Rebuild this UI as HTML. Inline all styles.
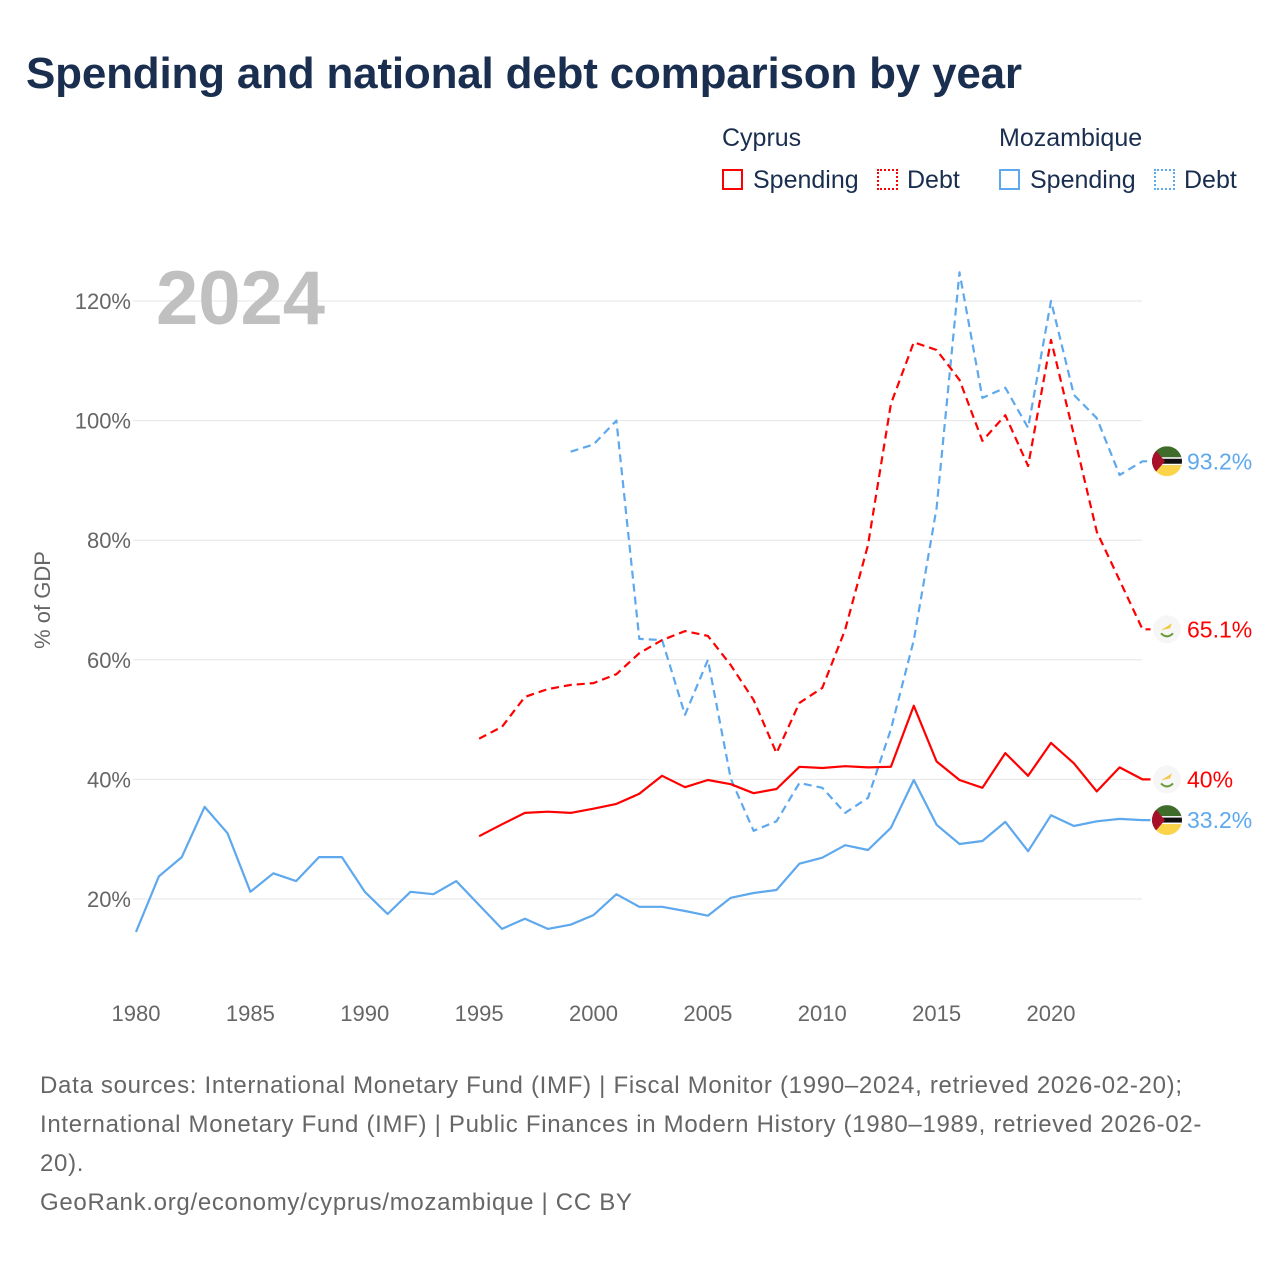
<!DOCTYPE html>
<html><head><meta charset="utf-8">
<style>
body{margin:0;background:#fff;font-family:"Liberation Sans",sans-serif;}
#wrap{position:relative;width:1280px;height:1280px;overflow:hidden;background:#fff;}
#title{position:absolute;left:26px;top:49px;font-size:44px;font-weight:bold;color:#1a2e4f;letter-spacing:-0.2px;margin:0;}
.lg{position:absolute;font-size:25px;color:#1a2e4f;}
.box{position:absolute;width:21px;height:21px;box-sizing:border-box;}
#src{position:absolute;left:40px;top:1066px;width:1240px;font-size:24px;line-height:39px;color:#666;letter-spacing:0.7px;white-space:nowrap;}
</style></head><body>
<div id="wrap">
<h1 id="title">Spending and national debt comparison by year</h1>
<div class="lg" style="left:722px;top:124px">Cyprus</div>
<div class="lg" style="left:999px;top:124px">Mozambique</div>
<div class="box" style="left:722px;top:169px;border:2px solid #ff0000"></div>
<div class="lg" style="left:753px;top:166px">Spending</div>
<div class="box" style="left:877px;top:169px;border:2px dotted #ff0000"></div>
<div class="lg" style="left:907px;top:166px">Debt</div>
<div class="box" style="left:999px;top:169px;border:2px solid #5ea8ee"></div>
<div class="lg" style="left:1030px;top:166px">Spending</div>
<div class="box" style="left:1154px;top:169px;border:2px dotted #5ea8ee"></div>
<div class="lg" style="left:1184px;top:166px">Debt</div>
<svg id="plot" width="1280" height="1280" style="position:absolute;left:0;top:0"></svg>
<div id="src">Data sources: International Monetary Fund (IMF) | Fiscal Monitor (1990–2024, retrieved 2026-02-20);<br>International Monetary Fund (IMF) | Public Finances in Modern History (1980–1989, retrieved 2026-02-<br>20).<br>GeoRank.org/economy/cyprus/mozambique | CC BY</div>
</div>
<script>
const yTicks=[20,40,60,80,100,120];
const xTicks=[1980,1985,1990,1995,2000,2005,2010,2015,2020];
const mozSpendStart=1980;
const mozSpending=[14.5,23.8,27,35.4,31,21.2,24.3,23,27,27,21.2,17.5,21.2,20.8,23,19,15,16.7,15,15.7,17.3,20.8,18.7,18.7,18,17.2,20.2,21,21.5,25.9,26.9,29,28.2,31.9,39.9,32.4,29.2,29.7,32.9,28,34,32.2,33,33.4,33.2];
const cypSpendStart=1995;
const cypSpending=[30.5,32.5,34.4,34.6,34.4,35.1,35.9,37.6,40.6,38.7,39.9,39.2,37.7,38.4,42.1,41.9,42.2,42,42.1,52.3,43,39.9,38.6,44.4,40.6,46.1,42.7,38,42,40];
const cypDebtStart=1995;
const cypDebt=[46.8,48.8,53.8,55.1,55.8,56.1,57.6,61.1,63.3,64.8,64,59.1,53.3,44.4,52.8,55.3,65,79.2,102.8,113.1,111.8,106.8,96.6,100.9,92.4,113.5,97.6,81.4,73.3,65.1];
const mozDebtStart=1999;
const mozDebt=[94.8,96,100,63.5,63.3,50.8,60,40.1,31.4,33,39.4,38.6,34.4,36.9,48.4,63.3,85.4,124.8,103.8,105.5,98.8,120,104.3,100.4,90.9,93.2];
const endLabels=["93.2%","65.1%","40%","33.2%"];

const NS="http://www.w3.org/2000/svg";
const svg=document.getElementById('plot');
const X=y=>136+(y-1980)*22.875;
const Y=v=>301+(120-v)*5.98;
function mk(t,a){const e=document.createElementNS(NS,t);for(const k in a)e.setAttribute(k,a[k]);svg.appendChild(e);return e;}
yTicks.forEach(v=>{
  const l=mk('line',{x1:133,x2:1142,y1:Y(v),y2:Y(v),stroke:'#e6e6e6','stroke-width':1});
  
  
  const t=mk('text',{x:131,y:Y(v)+8,'text-anchor':'end','font-size':22,fill:'#666','font-family':'Liberation Sans, sans-serif'});
  t.textContent=v+'%';
  
  
});
xTicks.forEach(yr=>{
  const t=mk('text',{x:X(yr),y:1021,'text-anchor':'middle','font-size':22,fill:'#666','font-family':'Liberation Sans, sans-serif'});
  t.textContent=yr;
  
  
});
const yt=mk('text',{x:0,y:0,transform:'translate(50,600) rotate(-90)','text-anchor':'middle','font-size':22,fill:'#666','font-family':'Liberation Sans, sans-serif'});
yt.textContent='% of GDP';


const yr=mk('text',{x:156,y:324,'font-size':76,'font-weight':'bold',fill:'#c0c0c0','font-family':'Liberation Sans, sans-serif'});
yr.textContent='2024';


function series(arr,start,color,dash,name){
  const pts=arr.map((v,i)=>X(start+i).toFixed(1)+','+Y(v).toFixed(1));
  pts.push((X(start+arr.length-1)+8).toFixed(1)+','+Y(arr[arr.length-1]).toFixed(1));
  const p=mk('polyline',{points:pts.join(' '),fill:'none',stroke:color,'stroke-width':2.2,'stroke-linejoin':'round'});
  if(dash)p.setAttribute('stroke-dasharray',dash);
  
  
}
series(mozSpending,mozSpendStart,'#5ea8ee',null,'mozambique-spending-line');
series(mozDebt,mozDebtStart,'#5ea8ee','8,5','mozambique-debt-line');
series(cypSpending,cypSpendStart,'#ff0000',null,'cyprus-spending-line');
series(cypDebt,cypDebtStart,'#ff0000','8,5','cyprus-debt-line');
const ends=[[mozDebt,'#5ea8ee','moz'],[cypDebt,'#ff0000','cyp'],[cypSpending,'#ff0000','cyp'],[mozSpending,'#5ea8ee','moz']];
ends.forEach((e,i)=>{
  const v=e[0][e[0].length-1], cy=Y(v), cx=1167;
  if(e[2]==='moz'){
    const g=document.createElementNS(NS,'g');svg.appendChild(g);
    
    
    g.innerHTML=`<clipPath id="c${i}"><circle cx="${cx}" cy="${cy}" r="15"/></clipPath><g clip-path="url(#c${i})"><rect x="${cx-15}" y="${cy-15}" width="30" height="11" fill="#3f6b2b"/><rect x="${cx-15}" y="${cy-4}" width="30" height="8" fill="#111"/><rect x="${cx-15}" y="${cy-4}" width="30" height="1.5" fill="#fff"/><rect x="${cx-15}" y="${cy+2.5}" width="30" height="1.5" fill="#fff"/><rect x="${cx-15}" y="${cy+4}" width="30" height="11" fill="#fcd44a"/><polygon points="${cx-15},${cy-15} ${cx-2},${cy} ${cx-15},${cy+15}" fill="#a8102a"/></g>`;
  } else {
    const g=document.createElementNS(NS,'g');svg.appendChild(g);
    
    
    g.innerHTML=`<circle cx="${cx}" cy="${cy}" r="14" fill="#f6f6f6"/><path d="M${cx-6},${cy+1} L${cx+5},${cy-6} L${cx+3},${cy-1} Z" fill="#f2c744"/><path d="M${cx-6},${cy+4} Q${cx},${cy+10} ${cx+6},${cy+4}" stroke="#6a9a3a" stroke-width="2" fill="none"/>`;
  }
  const t=mk('text',{x:1187,y:cy+8,'font-size':23,fill:e[1],'font-family':'Liberation Sans, sans-serif'});
  t.textContent=endLabels[i];
  
  
});
</script>
</body></html>
